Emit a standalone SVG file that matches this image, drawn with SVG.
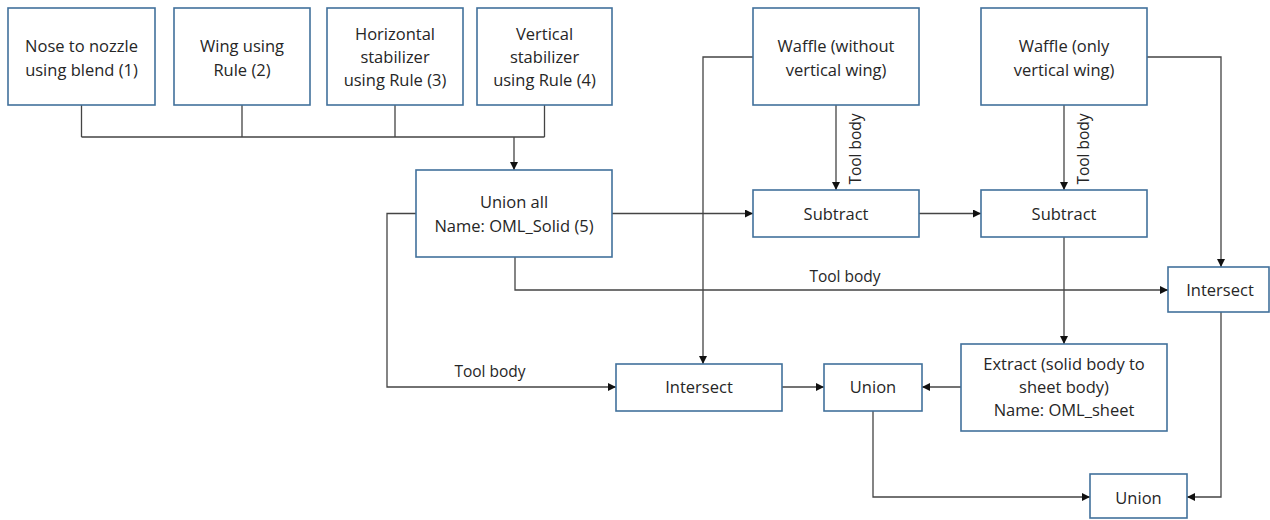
<svg xmlns="http://www.w3.org/2000/svg" width="1270" height="520" viewBox="0 0 1270 520">
  <defs>
    <marker id="arrow" viewBox="0 0 8 8" refX="8" refY="4" markerWidth="8" markerHeight="8" markerUnits="userSpaceOnUse" orient="auto">
      <path d="M0,0 L8,4 L0,8 z" fill="#111"/>
    </marker>
    <style>
      .box { fill: #ffffff; stroke: #41719c; stroke-width: 1.6; }
      .lbl { font-family: "Open Sans", "Liberation Sans", sans-serif; font-size: 16.5px; fill: #262626; text-anchor: middle; }
      .edge { fill: none; stroke: #444; stroke-width: 1.3; }
      .arr { marker-end: url(#arrow); }
      .elbl { font-family: "Open Sans", "Liberation Sans", sans-serif; font-size: 15.5px; fill: #262626; text-anchor: middle; }
    </style>
  </defs>
  <rect width="1270" height="520" fill="#ffffff"/>

  <!-- connectors -->
  <g id="connectors">
    <!-- bus from the four component boxes into Union all -->
    <path class="edge" d="M81.5,105 V137 M242,105 V137 M395,105 V137 M544.5,105 V137 M81.5,137 H544.5"/>
    <path class="edge arr" d="M514,137 V170"/>
    <!-- Union all to first Subtract -->
    <path class="edge arr" d="M612,213.5 H753"/>
    <!-- Subtract chain -->
    <path class="edge arr" d="M919,213.5 H981"/>
    <!-- waffle tool bodies -->
    <path class="edge arr" d="M836,105 V190"/>
    <path class="edge arr" d="M1064,105 V190"/>
    <text class="elbl" transform="translate(861,149) rotate(-90)">Tool body</text>
    <text class="elbl" transform="translate(1089,149) rotate(-90)">Tool body</text>
    <!-- waffle without vertical wing to left Intersect -->
    <path class="edge arr" d="M753,57 H703 V364"/>
    <!-- waffle only vertical wing to right Intersect -->
    <path class="edge arr" d="M1147,57 H1221 V267"/>
    <!-- Union all bottom to right Intersect (tool body) -->
    <path class="edge arr" d="M515,257 V290 H1168"/>
    <text class="elbl" x="845" y="282">Tool body</text>
    <!-- Union all left to left Intersect (tool body) -->
    <path class="edge arr" d="M416,213.5 H387 V387 H616"/>
    <text class="elbl" x="490" y="377">Tool body</text>
    <!-- second Subtract to Extract -->
    <path class="edge arr" d="M1064,237 V344"/>
    <!-- Extract to middle Union -->
    <path class="edge arr" d="M961,387 H922"/>
    <!-- left Intersect to middle Union -->
    <path class="edge arr" d="M782,387 H824"/>
    <!-- middle Union to final Union -->
    <path class="edge arr" d="M873,411 V497 H1090"/>
    <!-- right Intersect to final Union -->
    <path class="edge arr" d="M1221,312 V497 H1187"/>
  </g>

  <g id="nose">
    <rect class="box" x="8" y="8" width="147" height="97"/>
    <text class="lbl" x="81.5" y="52">Nose to nozzle</text>
    <text class="lbl" x="81.5" y="75.5">using blend (1)</text>
  </g>
  <g id="wing">
    <rect class="box" x="174" y="8" width="136" height="97"/>
    <text class="lbl" x="242" y="52">Wing using</text>
    <text class="lbl" x="242" y="75.5">Rule (2)</text>
  </g>
  <g id="hstab">
    <rect class="box" x="327" y="8" width="136" height="97"/>
    <text class="lbl" x="395" y="40">Horizontal</text>
    <text class="lbl" x="395" y="63">stabilizer</text>
    <text class="lbl" x="395" y="86">using Rule (3)</text>
  </g>
  <g id="vstab">
    <rect class="box" x="477" y="8" width="135" height="97"/>
    <text class="lbl" x="544.5" y="40">Vertical</text>
    <text class="lbl" x="544.5" y="63">stabilizer</text>
    <text class="lbl" x="544.5" y="86">using Rule (4)</text>
  </g>
  <g id="waffle-without-vertical">
    <rect class="box" x="753" y="8" width="166" height="97"/>
    <text class="lbl" x="836" y="52">Waffle (without</text>
    <text class="lbl" x="836" y="75.5">vertical wing)</text>
  </g>
  <g id="waffle-only-vertical">
    <rect class="box" x="981" y="8" width="166" height="97"/>
    <text class="lbl" x="1064" y="52">Waffle (only</text>
    <text class="lbl" x="1064" y="75.5">vertical wing)</text>
  </g>
  <g id="union-all">
    <rect class="box" x="416" y="170" width="196" height="87"/>
    <text class="lbl" x="514" y="208">Union all</text>
    <text class="lbl" x="514" y="231.5">Name: OML_Solid (5)</text>
  </g>
  <g id="subtract-1">
    <rect class="box" x="753" y="190" width="166" height="47"/>
    <text class="lbl" x="836" y="219.5">Subtract</text>
  </g>
  <g id="subtract-2">
    <rect class="box" x="981" y="190" width="166" height="47"/>
    <text class="lbl" x="1064" y="219.5">Subtract</text>
  </g>
  <g id="intersect-right">
    <rect class="box" x="1168" y="267" width="101" height="45"/>
    <text class="lbl" x="1220" y="295.5">Intersect</text>
  </g>
  <g id="extract">
    <rect class="box" x="961" y="344" width="206" height="87"/>
    <text class="lbl" x="1064" y="370">Extract (solid body to</text>
    <text class="lbl" x="1064" y="393">sheet body)</text>
    <text class="lbl" x="1064" y="416">Name: OML_sheet</text>
  </g>
  <g id="intersect-left">
    <rect class="box" x="616" y="364" width="166" height="47"/>
    <text class="lbl" x="699" y="393">Intersect</text>
  </g>
  <g id="union-mid">
    <rect class="box" x="824" y="364" width="98" height="47"/>
    <text class="lbl" x="873" y="393">Union</text>
  </g>
  <g id="union-final">
    <rect class="box" x="1090" y="474" width="97" height="44"/>
    <text class="lbl" x="1138.5" y="503.5">Union</text>
  </g>
</svg>
